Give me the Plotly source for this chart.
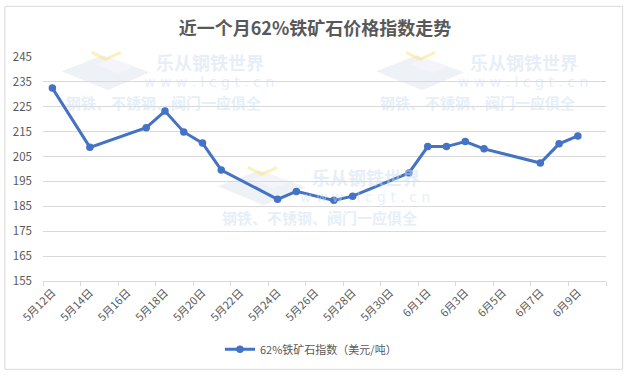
import plotly.graph_objects as go

# ---- data ----
dates = ["2021-05-12", "2021-05-14", "2021-05-17", "2021-05-18", "2021-05-19",
         "2021-05-20", "2021-05-21", "2021-05-24", "2021-05-25", "2021-05-27",
         "2021-05-28", "2021-05-31", "2021-06-01", "2021-06-02", "2021-06-03",
         "2021-06-04", "2021-06-07", "2021-06-08", "2021-06-09"]
values = [232.5, 208.7, 216.6, 223.3, 214.9, 210.4, 199.6, 187.8, 191.0, 187.4,
          189.1, 198.4, 209.0, 209.0, 211.0, 208.1, 202.4, 210.1, 213.3]
tick_dates = ["2021-05-12", "2021-05-14", "2021-05-16", "2021-05-18", "2021-05-20",
              "2021-05-22", "2021-05-24", "2021-05-26", "2021-05-28", "2021-05-30",
              "2021-06-01", "2021-06-03", "2021-06-05", "2021-06-07", "2021-06-09"]
tick_labels = ["5月12日", "5月14日", "5月16日", "5月18日", "5月20日", "5月22日",
               "5月24日", "5月26日", "5月28日", "5月30日", "6月1日", "6月3日",
               "6月5日", "6月7日", "6月9日"]
y_ticks = [155, 165, 175, 185, 195, 205, 215, 225, 235, 245]
series_name = "62%铁矿石指数（美元/吨）"
title = "近一个月62%铁矿石价格指数走势"
wm_lines = ["乐从钢铁世界", "w w w . l c g t . c n", "钢铁、不锈钢、阀门一应俱全"]

W, H = 630, 377
L, R, T, B = 43.3, 24.3, 56.7, 96.3
PW, PH = W - L - R, H - T - B
FONT = "Noto Sans CJK SC"
GRID = "#d9d9d9"
TXT = "#595959"
BLUE = "#4472C4"


def px(x):
    return (x - L) / PW


def py(y):
    return (H - B - y) / PH


fig = go.Figure()
fig.add_trace(go.Scatter(
    x=dates, y=values, mode="lines+markers", name=series_name,
    line=dict(color=BLUE, width=3),
    marker=dict(color=BLUE, size=7.5),
))

shapes = []
annotations = []
# watermarks (offsets in pixels)
for dx, dy in [(0, 0), (314, 0), (156, 115)]:
    pts = [(62, 71), (103, 55), (150, 72), (108, 90)]
    path = "M " + " L ".join(f"{px(a + dx)},{py(b + dy)}" for a, b in pts) + " Z"
    shapes.append(dict(type="path", xref="paper", yref="paper", path=path,
                       fillcolor="rgba(205,214,230,0.35)", line=dict(width=0), layer="below"))
    pts2 = [(95, 64), (112, 58), (135, 66), (118, 73)]
    path2 = "M " + " L ".join(f"{px(a + dx)},{py(b + dy)}" for a, b in pts2) + " Z"
    shapes.append(dict(type="path", xref="paper", yref="paper", path=path2,
                       fillcolor="rgba(245,247,252,0.7)", line=dict(width=0), layer="below"))
    pts3 = [(92, 52), (106, 59), (121, 52)]
    path3 = "M " + " L ".join(f"{px(a + dx)},{py(b + dy)}" for a, b in pts3)
    shapes.append(dict(type="path", xref="paper", yref="paper", path=path3,
                       line=dict(color="rgba(250,232,140,0.6)", width=3), layer="below"))
    wc = "rgba(205,222,242,0.5)"
    annotations.append(dict(text="<b>" + wm_lines[0] + "</b>", xref="paper", yref="paper",
                            x=px(154 + dx), y=py(62 + dy), xanchor="left", yanchor="middle",
                            showarrow=False, font=dict(family=FONT, size=18, color=wc)))
    annotations.append(dict(text=wm_lines[1], xref="paper", yref="paper",
                            x=px(209 + dx), y=py(82 + dy), xanchor="center", yanchor="middle",
                            showarrow=False, font=dict(family="DejaVu Sans", size=14, color=wc)))
    annotations.append(dict(text="<b>" + wm_lines[2] + "</b>", xref="paper", yref="paper",
                            x=px(263 + dx), y=py(102 + dy), xanchor="right", yanchor="middle",
                            showarrow=False, font=dict(family=FONT, size=15, color=wc)))

# outer chart border
shapes.append(dict(type="rect", xref="paper", yref="paper",
                   x0=px(5.3), x1=px(622.3), y0=py(369), y1=py(6),
                   line=dict(color=GRID, width=1), fillcolor="rgba(0,0,0,0)", layer="below"))

fig.update_layout(
    width=W, height=H,
    margin=dict(l=L, r=R, t=T, b=B, pad=0, autoexpand=False),
    paper_bgcolor="white", plot_bgcolor="white",
    font=dict(family=FONT, color=TXT, size=11),
    title=dict(text="<b>" + title + "</b>", x=0.5, xref="container", xanchor="center",
               y=1 - 29 / H, yref="container", yanchor="middle", automargin=False,
               font=dict(family=FONT, size=18, color=TXT)),
    showlegend=True,
    legend=dict(orientation="h", x=px(311), xanchor="center", y=py(349), yanchor="middle",
                font=dict(family=FONT, size=11, color=TXT), bgcolor="rgba(0,0,0,0)"),
    shapes=shapes,
    annotations=annotations,
    xaxis=dict(
        type="date", automargin=False,
        range=["2021-05-11 12:00", "2021-06-10 12:00"],
        tickmode="array", tickvals=tick_dates, ticktext=tick_labels,
        tickangle=-45, ticks="", showgrid=False, zeroline=False,
        showline=True, linecolor=GRID, linewidth=1,
        tickfont=dict(family=FONT, size=11, color=TXT),
        minor=dict(ticks="outside", ticklen=4, tickcolor=GRID, tickwidth=1,
                   tick0="2021-05-11 12:00", dtick=2 * 86400000, showgrid=False),
    ),
    yaxis=dict(
        range=[155, 245], tickmode="array", tickvals=y_ticks, automargin=False,
        showgrid=True, gridcolor=GRID, gridwidth=1, zeroline=False,
        showline=False, ticks="", ticklabelstandoff=10,
        tickfont=dict(family=FONT, size=11.5, color=TXT),
    ),
)

fig.write_html("out.html", config={"displayModeBar": False},
               post_script="document.body.style.margin='0';document.body.style.overflow='hidden';")
